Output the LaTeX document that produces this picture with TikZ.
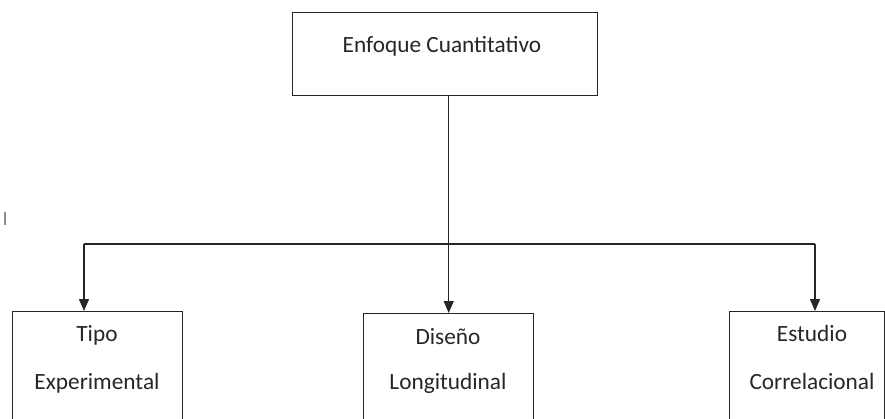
\documentclass[tikz,border=0pt]{standalone}
\usepackage{fontspec}
\setmainfont{Carlito}
\usetikzlibrary{arrows.meta}
\begin{document}
\begin{tikzpicture}[x=1pt,y=-1pt,
  boxline/.style={draw=black!85,line width=1.4pt},
  conn/.style={draw=black!85,line width=1.4pt},
  arr/.style={conn,-{Triangle[width=10pt,length=12pt]}},
  lbl/.style={font=\fontsize{23.3}{27}\selectfont,text=black!85,inner sep=0pt,anchor=base}]
\useasboundingbox (0,0) rectangle (885,418);
\clip (0,0) rectangle (885,418);
% top box
\node[boxline,minimum width=305pt,minimum height=83pt,anchor=north west,inner sep=0pt] (top) at (292,12) {};
\node[lbl] (toptxt) at (442,52) {Enfoque Cuantitativo};
% bottom boxes (cut at the bottom edge)
\node[boxline,minimum width=170pt,minimum height=130pt,anchor=north west,inner sep=0pt] (left) at (12,311) {};
\node[boxline,minimum width=170pt,minimum height=130pt,anchor=north west,inner sep=0pt] (mid) at (363,313) {};
\node[boxline,minimum width=155pt,minimum height=130pt,anchor=north west,inner sep=0pt] (right) at (729,311) {};
\node[lbl] (t1) at (97,341) {Tipo};
\node[lbl] (t2) at (97,389) {Experimental};
\node[lbl] (m1) at (448,344) {Diseño};
\node[lbl] (m2) at (448,389) {Longitudinal};
\node[lbl] (r1) at (812,341) {Estudio};
\node[lbl] (r2) at (812,389) {Correlacional};
% connectors
\coordinate (hl) at (84,244);
\coordinate (hr) at (815,244);
\draw[arr] (top.south -| mid.north) -- (mid.north);
\draw[conn] (hl) -- (hr);
\draw[arr] (hl) -- (hl |- left.north);
\draw[arr] (hr) -- (hr |- right.north);
% stray mark
\draw[black!45,line width=1.5pt] (5,212) -- (5,225);
\end{tikzpicture}
\end{document}
